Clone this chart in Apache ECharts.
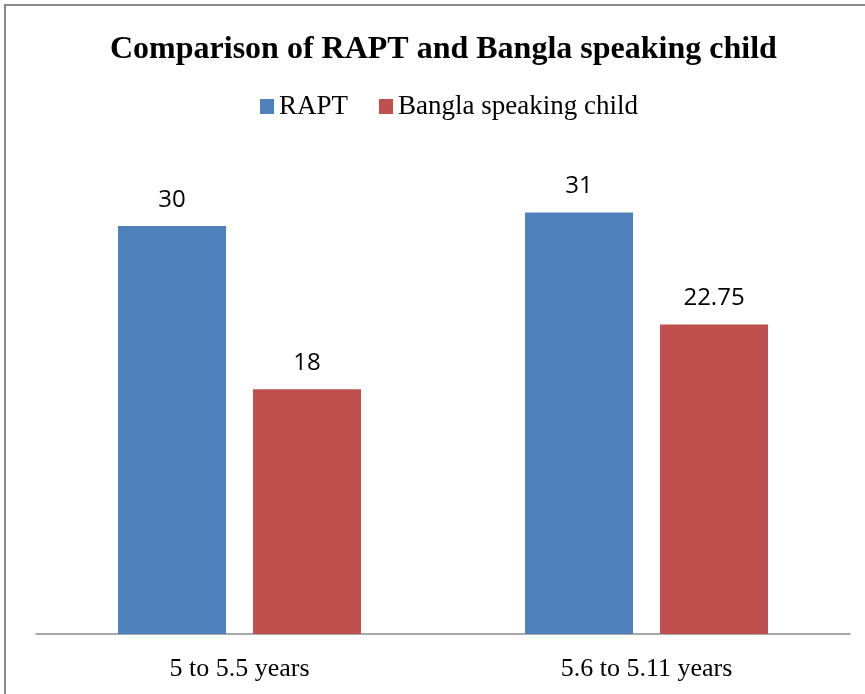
<!DOCTYPE html>
<html>
<head>
<meta charset="utf-8">
<script src="https://cdn.jsdelivr.net/npm/echarts@6/dist/echarts.min.js"></script>
<style>
	html,body{margin:0;padding:0;background:#fff;overflow:hidden;}
	#chart{position:absolute;left:0;top:0;width:865px;height:694px;}
	.frame{position:absolute;left:4px;top:4px;width:900px;height:720px;border:2px solid #8a8a8a;pointer-events:none;}
</style>
</head>
<body>
<div id="chart"></div>
<div class="frame"></div>
<script>
	// data
	var categories = ['5 to 5.5 years', '5.6 to 5.11 years'];
	var raptValues = [30, 31];
	var banglaValues = [18, 22.75];
	var seriesNames = ['RAPT', 'Bangla speaking child'];

	var serif = '"Liberation Serif", "DejaVu Serif", serif';
	var sans = '"Open Sans", "Liberation Sans", sans-serif';

	var labelStyle = {
		show: true,
		position: 'top',
		distance: 14,
		color: '#000',
		fontFamily: sans,
		fontSize: 24
	};

	var mychart = echarts.init(document.getElementById('chart'));
	mychart.setOption({
		animation: false,
		title: {
			text: 'Comparison of RAPT and Bangla speaking child',
			left: 105,
			top: 29,
			textStyle: {
				fontFamily: serif,
				fontWeight: 'bold',
				fontSize: 32,
				color: '#000'
			}
		},
		legend: {
			top: 88,
			left: 255,
			itemWidth: 14,
			itemHeight: 15,
			itemGap: 31,
			icon: 'rect',
			textStyle: {
				fontFamily: serif,
				fontSize: 27,
				color: '#000'
			},
			data: seriesNames
		},
		grid: {
			left: 36,
			right: 15,
			top: 158,
			bottom: 60
		},
		xAxis: {
			type: 'category',
			data: categories,
			axisLine: {
				lineStyle: {color: '#8c8c8c', width: 1.5}
			},
			axisTick: {show: false},
			axisLabel: {
				margin: 22,
				fontFamily: serif,
				fontSize: 26,
				color: '#000'
			}
		},
		yAxis: {
			type: 'value',
			min: 0,
			max: 35,
			show: false,
			splitLine: {show: false}
		},
		series: [
			{
				name: seriesNames[0],
				type: 'bar',
				barWidth: 108,
				barGap: '25%',
				itemStyle: {color: '#4F81BD'},
				label: labelStyle,
				data: raptValues
			},
			{
				name: seriesNames[1],
				type: 'bar',
				barWidth: 108,
				itemStyle: {color: '#C0504D'},
				label: labelStyle,
				data: banglaValues
			}
		]
	});
</script>
</body>
</html>
